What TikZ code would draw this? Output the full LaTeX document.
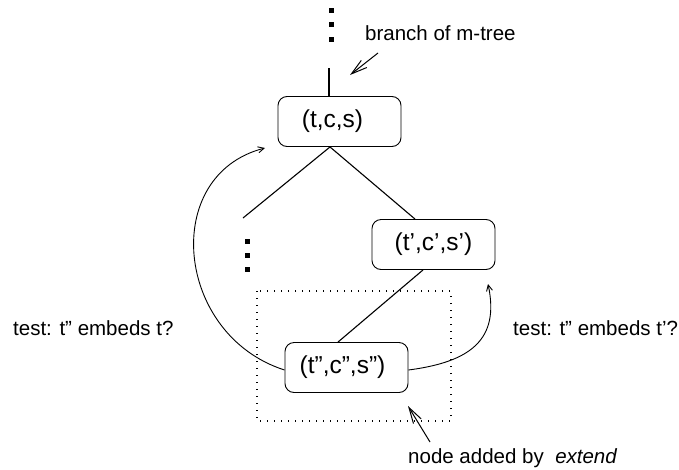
\documentclass[tikz,border=0pt]{standalone}
\usepackage{fontspec}
\setmainfont{Liberation Sans}
\usetikzlibrary{arrows.meta}
\begin{document}
\begin{tikzpicture}[x=1pt,y=-1pt,
  triple/.style={draw, rounded corners=9pt, line width=0.9pt, minimum width=123pt,
    minimum height=50pt, inner sep=0pt, font=\fontsize{24.5}{28}\selectfont},
  edge/.style={line width=1.1pt},
  dot/.style={fill, rectangle, minimum size=5pt, inner sep=0pt},
  lbl/.style={anchor=west, inner sep=0pt, font=\fontsize{20.5}{24}\selectfont},
  pointer/.style={line width=1pt, -{Straight Barb[length=16pt,width=9pt,line width=1pt]}},
  loop/.style={line width=0.9pt, -{Straight Barb[length=6pt,width=6pt,line width=0.9pt]}}]
\useasboundingbox (0,0) rectangle (679,469);

% tree nodes (the text in two boxes sits a little left of centre)
\node[triple] (root) at (339.5,121.5) {\hspace*{-14pt}(t,c,s)};
\node[triple] (child) at (433.5,244.5) {(t',c',s')};
\node[triple] (new) at (346.5,367.5) {\hspace*{-8pt}(t'',c'',s'')};

% dotted frame round the added node
\draw[line width=1.3pt, dash pattern=on 1.3pt off 5.7pt] (257,291) rectangle (451,421);

% continuation dots
\node[dot] (u1) at (331.5,10) {};
\node[dot] (u2) at (331.5,24) {};
\node[dot] (u3) at (331.5,39) {};
\node[dot] (l1) at (247,241) {};
\node[dot] (l2) at (247,255) {};
\node[dot] (l3) at (247,269) {};

% branches
\coordinate (up) at (329,68);
\coordinate (left) at (243,218);
\draw[edge] (up) -- (up |- root.north);
\draw[edge] (root.south -| 330,0) -- (left);
\draw[edge] (root.south -| 330,0) -- (child.north -| 415,0);
\draw[edge] (child.south -| 423,0) -- (new.north -| 338,0);

% embedding tests
\draw[loop] (new.west |- 0,370) .. controls (175,335) and (160,175) .. (265,148);
\draw[loop] (new.east |- 0,370) .. controls (470,362) and (500,340) .. (488,284);

% labels and their pointers
\node[lbl] (branch) at (365,33) {branch of m-tree};
\coordinate (bt) at (378,53);
\coordinate (bh) at (350,75);
\draw[pointer] (bt) -- (bh);

\node[lbl] (testl) at (13,328) {test: t'' embeds t?};
\node[lbl] (testr) at (513,328) {test: t'' embeds t'?};

\node[lbl] (added) at (408,458) {node added by \ \textit{extend}};
\coordinate (et) at (430,442);
\coordinate (eh) at (408,406);
\draw[pointer] (et) -- (eh);
\end{tikzpicture}
\end{document}
